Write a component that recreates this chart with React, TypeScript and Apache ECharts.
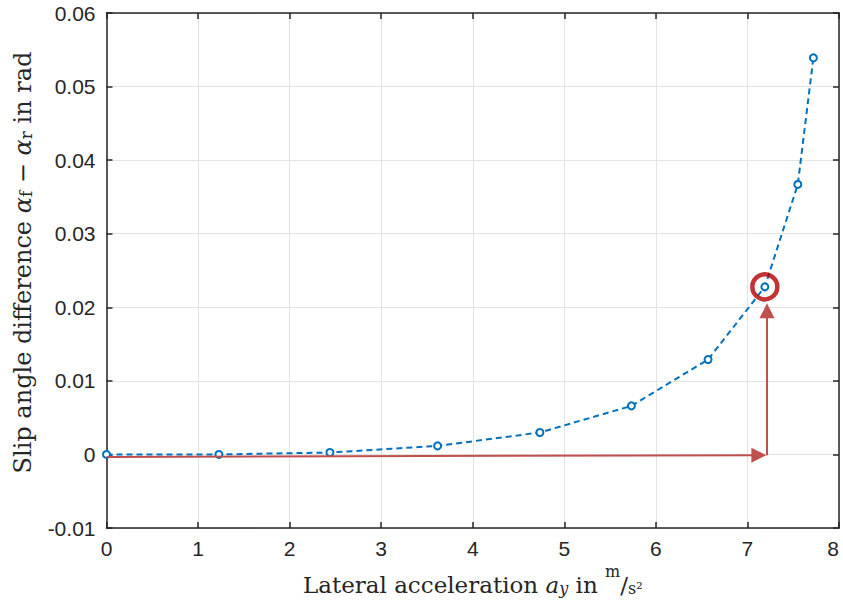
import React, { useEffect, useRef } from "react";
import * as echarts from "echarts";

// Lateral acceleration (m/s^2) and the resulting slip angle difference (rad)
const accel = [0, 1.228, 2.44, 3.616, 4.733, 5.733, 6.57, 7.19, 7.55, 7.72];
const slipDiff = [0, 0.0, 0.00026, 0.00116, 0.00298, 0.0066, 0.0129, 0.02278, 0.0367, 0.0539];

// Highlighted operating point and the guide arrows leading to it
// (arrow end points are the centres of the arrow heads)
const markPoint = [7.19, 0.02278];
const arrowH = [[0, -0.00034], [7.125, -0.0001]];
const arrowV = [[7.214, -0.0001], [7.214, 0.01954]];

const xTicks = { min: 0, max: 8, step: 1 };
const yTicks = { min: -0.01, max: 0.06, step: 0.01 };

const INK = "#262626";
const BLUE = "#0072BD";

function titleRich(size: number) {
  const serif = "'DejaVu Serif', 'Liberation Serif', serif";
  const small = Math.round(size * 0.7);
  return {
    t: { fontFamily: serif, fontSize: size, color: INK, verticalAlign: "bottom", lineHeight: size + 6 },
    i: { fontFamily: serif, fontSize: size, fontStyle: "italic", color: INK, verticalAlign: "bottom", lineHeight: size + 6 },
    s: { fontFamily: serif, fontSize: small, color: INK, verticalAlign: "bottom", lineHeight: small + 6 },
    si: { fontFamily: serif, fontSize: small, fontStyle: "italic", color: INK, verticalAlign: "bottom", lineHeight: small + 6 },
    sup: { fontFamily: serif, fontSize: small, color: INK, verticalAlign: "top", lineHeight: size + 10 },
  };
}

export default function App() {
  const ref = useRef<HTMLDivElement>(null);

  useEffect(() => {
    if (!ref.current) return;
    const chart = echarts.init(ref.current, undefined, { renderer: "svg", width: 843, height: 601 });

    const tickFont = { fontFamily: "Liberation Sans, Arial, sans-serif", fontSize: 21, color: INK };
    const axisLine = { show: true, lineStyle: { color: INK, width: 1.5 } };
    const tickIn = { show: true, inside: true, length: 6, lineStyle: { color: INK, width: 1.5 } };

    chart.setOption({
      animation: false,
      backgroundColor: "#ffffff",
      grid: {
        left: 106.5,
        right: 4,
        top: 13,
        bottom: 73,
        containLabel: false,
        outerBoundsMode: "none",
      },
      xAxis: [
        {
          type: "value",
          min: xTicks.min,
          max: xTicks.max,
          interval: xTicks.step,
          axisLine: { ...axisLine, onZero: false },
          axisTick: tickIn,
          axisLabel: { ...tickFont, margin: 10, alignMaxLabel: "right" },
          splitLine: { show: true, lineStyle: { color: "#e3e3e3", width: 1 } },
          name: "{t|Lateral acceleration }{i|a}{si|y}{t| in }{sup|m}{t|/}{s|s²}",
          nameLocation: "middle",
          nameGap: 15,
          nameTextStyle: { rich: titleRich(23) },
        },
        {
          type: "value",
          position: "top",
          min: xTicks.min,
          max: xTicks.max,
          interval: xTicks.step,
          axisLine: { ...axisLine, onZero: false },
          axisTick: tickIn,
          axisLabel: { show: false },
          splitLine: { show: false },
        },
      ],
      yAxis: [
        {
          type: "value",
          min: yTicks.min,
          max: yTicks.max,
          interval: yTicks.step,
          axisLine: { ...axisLine, onZero: false },
          axisTick: tickIn,
          axisLabel: {
            ...tickFont,
            margin: 11,
            formatter: (v: number) => String(+v.toFixed(2)),
          },
          splitLine: { show: true, lineStyle: { color: "#e3e3e3", width: 1 } },
          name: "{t|Slip angle difference }{i|α}{s|f}{t| − }{i|α}{s|r}{t| in rad}",
          nameLocation: "middle",
          nameRotate: 90,
          nameGap: 72,
          nameTextStyle: { rich: titleRich(24), padding: [0, 0, 0, 16] },
        },
        {
          type: "value",
          position: "right",
          min: yTicks.min,
          max: yTicks.max,
          interval: yTicks.step,
          axisLine: { ...axisLine, onZero: false },
          axisTick: tickIn,
          axisLabel: { show: false },
          splitLine: { show: false },
        },
      ],
      series: [
        {
          type: "line",
          data: accel.map((x, i) => [x, slipDiff[i]]),
          symbol: "emptyCircle",
          symbolSize: 7,
          lineStyle: { color: BLUE, width: 2, type: [6, 4] },
          itemStyle: { color: BLUE, borderColor: BLUE, borderWidth: 1.6 },
          z: 3,
          silent: true,
        },
        {
          type: "scatter",
          data: [markPoint],
          symbol: "circle",
          symbolSize: 25,
          itemStyle: { color: "rgba(0,0,0,0)", borderColor: "#b40000", borderWidth: 4.5 },
          z: 4,
          silent: true,
          markLine: {
            silent: true,
            symbol: ["none", "triangle"],
            symbolSize: [15, 15],
            label: { show: false },
            lineStyle: { color: "#c0504d", width: 2, type: "solid" },
            emphasis: { disabled: true },
            data: [
              [{ coord: arrowH[0] }, { coord: arrowH[1] }],
              [{ coord: arrowV[0] }, { coord: arrowV[1] }],
            ],
          },
        },
      ],
    });

    return () => chart.dispose();
  }, []);

  return (
    <div
      ref={ref}
      style={{ position: "fixed", left: 0, top: 0, width: 843, height: 601 }}
    />
  );
}
